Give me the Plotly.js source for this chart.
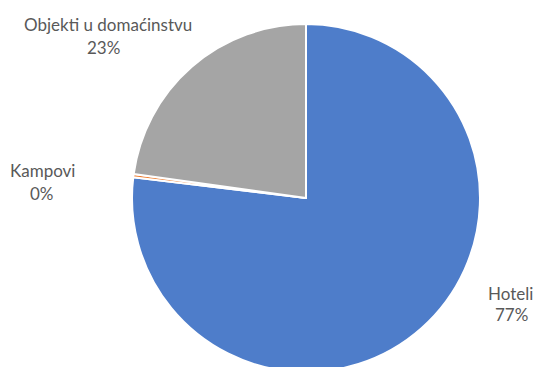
<!DOCTYPE html>
<html>
<head>
<meta charset="utf-8">
<script src="https://cdn.plot.ly/plotly-3.0.1.min.js"></script>
<style>
html, body { margin: 0; padding: 0; overflow: hidden; background: #fff; }
#chart { width: 534px; height: 380px; }
</style>
</head>
<body>
<div id="chart"></div>
<script>
const categories = ["Hoteli", "Kampovi", "Objekti u domaćinstvu"];
const values = [76.9, 0.3, 22.8];
const colors = ["#4E7DCA", "#ED7D31", "#A5A5A5"];

const W = 534, H = 380;
const total = values.reduce((a, b) => a + b, 0);
const pct = values.map(v => Math.round(v / total * 100) + "%");

// label anchor positions in pixels (name line, percent line)
const labelPos = [
  { x: 510, y1: 293, x2: 511, y2: 314 },
  { x: 42, y1: 171, x2: 42, y2: 193 },
  { x: 108, y1: 25, x2: 103, y2: 47 }
];

const font = { family: "Lato, Liberation Sans, Arial, sans-serif", size: 17, color: "#595959" };
const annotations = [];
categories.forEach((c, i) => {
  const p = labelPos[i];
  annotations.push({ text: c, x: p.x / W, y: 1 - p.y1 / H, xref: "paper", yref: "paper",
    xanchor: "center", yanchor: "middle", showarrow: false, font: font });
  annotations.push({ text: pct[i], x: p.x2 / W, y: 1 - p.y2 / H, xref: "paper", yref: "paper",
    xanchor: "center", yanchor: "middle", showarrow: false, font: font });
});

const cx = 306, cy = 198, r = 174;
const trace = {
  type: "pie",
  labels: categories,
  values: values,
  sort: false,
  direction: "clockwise",
  rotation: 0,
  textinfo: "none",
  hoverinfo: "label+percent",
  marker: { colors: colors, line: { color: "#ffffff", width: 2 } },
  domain: { x: [(cx - r) / W, (cx + r) / W], y: [1 - (cy + r) / H, 1 - (cy - r) / H] },
  showlegend: false
};

Plotly.newPlot("chart", [trace], {
  width: W, height: H,
  margin: { l: 0, r: 0, t: 0, b: 0 },
  paper_bgcolor: "#ffffff",
  annotations: annotations,
  showlegend: false
}, { displayModeBar: false, staticPlot: true });
</script>
</body>
</html>
